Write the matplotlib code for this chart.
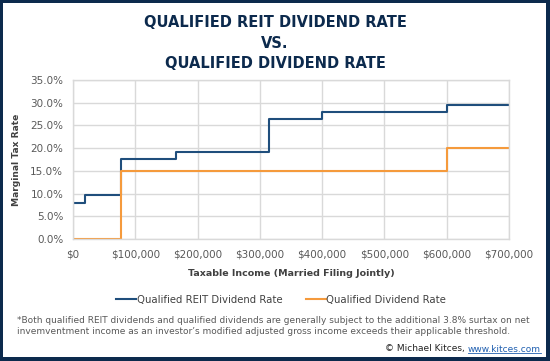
import matplotlib
matplotlib.use('Agg')
import matplotlib.pyplot as plt
from matplotlib.patches import Rectangle
from matplotlib.lines import Line2D
from matplotlib.ticker import FuncFormatter, MultipleLocator

# step data (income thresholds, marginal rates in %)
reit_income = [0, 19050, 77400, 165000, 315000, 400000, 600000, 700000]
reit_rate = [8.0, 9.6, 17.6, 19.2, 26.4, 28.0, 29.6, 29.6]
qd_income = [0, 77400, 600000, 700000]
qd_rate = [0.0, 15.0, 20.0, 20.0]

title = 'QUALIFIED REIT DIVIDEND RATE\nVS.\nQUALIFIED DIVIDEND RATE'
eixox = 'Taxable Income (Married Filing Jointly)'
eixoy = 'Marginal Tax Rate'
nota = ('*Both qualified REIT dividends and qualified dividends are generally subject to the additional 3.8% surtax on net\n'
        'invemventment income as an investor\u2019s modified adjusted gross income exceeds their applicable threshold.')

navy = '#0c2a4d'
blue = '#1f4e7c'
orange = '#f59a3c'
gray = '#595959'
gridc = '#d9d9d9'

W, H = 550, 361
fig = plt.figure(figsize=(5.5, 3.61), dpi=100)
fig.patch.set_facecolor(navy)
fig.patches.append(Rectangle((3 / W, 4 / H), (W - 7) / W, (H - 7) / H,
                             transform=fig.transFigure, facecolor='white',
                             edgecolor='none', zorder=-1))

ax = fig.add_axes([73 / W, 1 - 239 / H, (509 - 73) / W, (239 - 80) / H])
ax.set_facecolor('white')
ax.plot(reit_income, reit_rate, drawstyle='steps-post', color=blue, lw=1.5)
ax.plot(qd_income, qd_rate, drawstyle='steps-post', color=orange, lw=1.5)
ax.set_xlim(0, 700000)
ax.set_ylim(0, 35)
ax.xaxis.set_major_locator(MultipleLocator(100000))
ax.yaxis.set_major_locator(MultipleLocator(5))
ax.xaxis.set_major_formatter(FuncFormatter(lambda v, p: '${:,.0f}'.format(v)))
ax.yaxis.set_major_formatter(FuncFormatter(lambda v, p: '{:.1f}%'.format(v)))
ax.grid(True, color=gridc, lw=1)
ax.set_axisbelow(True)
for s in ax.spines.values():
    s.set_color(gridc)
    s.set_linewidth(1)
ax.tick_params(length=0, labelsize=7.5, labelcolor=gray)
ax.tick_params(axis='x', pad=7.5)
ax.tick_params(axis='y', pad=7)

fig.text(275 / W, 1 - 43 / H, title, ha='center', va='center', fontsize=10.5,
         fontweight='bold', color=navy, linespacing=1.45)
fig.text(16.5 / W, 1 - 160 / H, eixoy, rotation=90, ha='center', va='center',
         fontsize=6.6, fontweight='bold', color='#404040')
fig.text(291 / W, 1 - 274 / H, eixox, ha='center', va='center',
         fontsize=6.8, fontweight='bold', color='#404040')

# legend
leg = [Line2D([], [], color=blue, lw=1.5), Line2D([], [], color=orange, lw=1.5)]
fig.legend(leg, ['Qualified REIT Dividend Rate', 'Qualified Dividend Rate'],
           loc='center', bbox_to_anchor=(281 / W, 1 - 300 / H), ncol=2,
           frameon=False, fontsize=7.3, handlelength=2.0, handletextpad=0.05,
           columnspacing=2.3, labelcolor='#404040')

fig.text(17 / W, 1 - 326 / H, nota, ha='left', va='center', fontsize=6.5,
         color=gray, linespacing=1.15)

# copyright with underlined link
fig.canvas.draw()
link = fig.text(541 / W, 1 - 349 / H, 'www.kitces.com', ha='right', va='center',
                fontsize=6.5, color='#1f5fb0')
r = fig.canvas.get_renderer()
bb = link.get_window_extent(r)
fig.text(bb.x0 / W, 1 - 349 / H, '\u00a9 Michael Kitces, ', ha='right', va='center',
         fontsize=6.5, color='#222222')
fig.add_artist(Line2D([bb.x0 / W, bb.x1 / W], [(bb.y0 + 0.5) / H] * 2,
                      transform=fig.transFigure, color='#1f5fb0', lw=0.6))

fig.savefig('out.png', dpi=100, facecolor=fig.get_facecolor())
